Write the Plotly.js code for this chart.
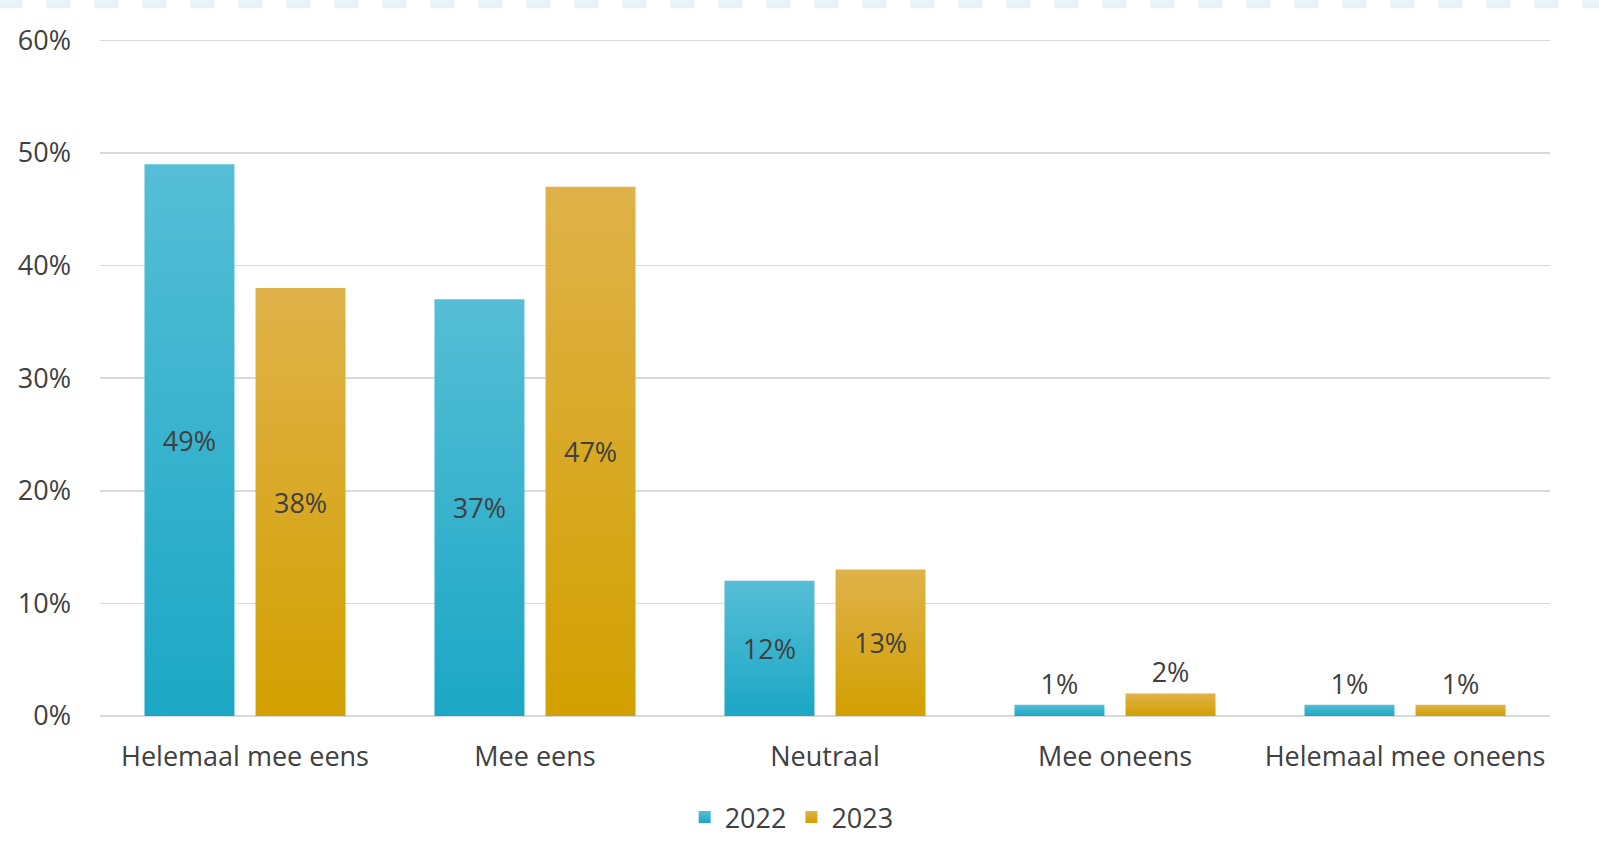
<!DOCTYPE html>
<html><head><meta charset="utf-8">
<script src="https://cdn.plot.ly/plotly-3.0.1.min.js"></script>
<style>html,body{margin:0;padding:0;background:#fff;overflow:hidden;}#chart{width:1599px;height:847px;}</style>
</head><body><div id="chart"></div>
<script>
const categories = ["Helemaal mee eens", "Mee eens", "Neutraal", "Mee oneens", "Helemaal mee oneens"];
const values2022 = [0.49, 0.37, 0.12, 0.01, 0.01];
const values2023 = [0.38, 0.47, 0.13, 0.02, 0.01];
const seriesNames = ["2022", "2023"];
const yTicks = [0, 0.1, 0.2, 0.3, 0.4, 0.5, 0.6];

const FONT = "Open Sans, sans-serif";
const TXT = "#404040";
const FS = 27;
const gradients = [["#56BED6", "#1BA7C5"], ["#DFB24A", "#D2A000"]];
function pct(v){ return Math.round(v*100) + "%"; }

const traces = [
  {type:"bar", name:seriesNames[0], x:categories, y:values2022,
   text:values2022.map(pct), textposition:"auto", insidetextanchor:"middle",
   textfont:{family:FONT,size:FS,color:TXT}, cliponaxis:false,
   marker:{color:"#30B4D0", line:{width:0}}, hoverinfo:"skip"},
  {type:"bar", name:seriesNames[1], x:categories, y:values2023,
   text:values2023.map(pct), textposition:"auto", insidetextanchor:"middle",
   textfont:{family:FONT,size:FS,color:TXT}, cliponaxis:false,
   marker:{color:"#D9A71A", line:{width:0}}, hoverinfo:"skip"}
];

const layout = {
  width:1599, height:847,
  margin:{l:100, r:49, t:29, b:131, autoexpand:false},
  paper_bgcolor:"#fff", plot_bgcolor:"#fff",
  font:{family:FONT, color:TXT, size:FS},
  barmode:"group", bargap:0.234, bargroupgap:0.19,
  xaxis:{tickfont:{family:FONT,size:FS,color:TXT}, showline:false, ticks:"", showgrid:false, zeroline:false,
         automargin:false, ticklabelstandoff:22},
  yaxis:{range:[0,0.61], tickvals:yTicks, ticktext:yTicks.map(pct),
         tickfont:{family:FONT,size:FS,color:TXT}, gridcolor:"#D9D9D9", gridwidth:1.5,
         zeroline:true, zerolinecolor:"#D9D9D9", zerolinewidth:1.5, ticks:"", ticklabelstandoff:28, showline:false,
         automargin:false},
  legend:{orientation:"h", x:0.477, xanchor:"center", y:-0.112, yanchor:"top",
          font:{family:FONT,size:FS,color:TXT}, itemwidth:30, traceorder:"normal"},
  shapes:[{type:"line", xref:"paper", yref:"paper", x0:-0.07, x1:1.04, y0:1.036, y1:1.036,
           line:{color:"#E6F2F7", width:8, dash:"dash"}}],
  showlegend:true
};

function applyGradients(gd){
  const svg = gd.querySelector("svg.main-svg");
  if(!svg) return;
  const NS = "http://www.w3.org/2000/svg";
  let defs = svg.querySelector("defs");
  if(!defs){ defs = document.createElementNS(NS, "defs"); svg.insertBefore(defs, svg.firstChild); }
  gradients.forEach((g, i) => {
    if(svg.querySelector("#bargrad" + i)) return;
    const lg = document.createElementNS(NS, "linearGradient");
    lg.setAttribute("id", "bargrad" + i);
    lg.setAttribute("x1", "0"); lg.setAttribute("y1", "0");
    lg.setAttribute("x2", "0"); lg.setAttribute("y2", "1");
    [[0, g[0]], [1, g[1]]].forEach(([o, c]) => {
      const st = document.createElementNS(NS, "stop");
      st.setAttribute("offset", o); st.setAttribute("stop-color", c);
      lg.appendChild(st);
    });
    defs.appendChild(lg);
  });
  gd.querySelectorAll(".barlayer .trace").forEach((tr, i) => {
    tr.querySelectorAll("path").forEach(p => { p.style.fill = "url(#bargrad" + (i % 2) + ")"; });
  });
  gd.querySelectorAll(".legend .traces").forEach((tr, i) => {
    tr.querySelectorAll(".legendpoints path").forEach(p => { p.style.fill = "url(#bargrad" + (i % 2) + ")"; });
  });
}

Plotly.newPlot("chart", traces, layout, {displayModeBar:false, staticPlot:true}).then(applyGradients);
</script></body></html>
